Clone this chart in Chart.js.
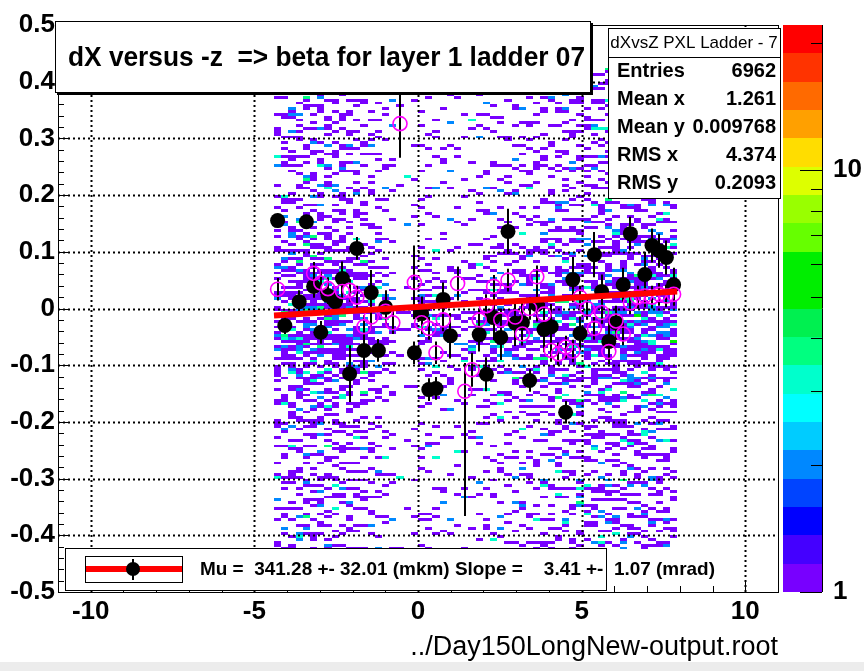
<!DOCTYPE html>
<html>
<head>
<meta charset="utf-8">
<script src="https://cdn.jsdelivr.net/npm/chart.js@4.4.0/dist/chart.umd.min.js"></script>
<style>
  body { margin: 0; background: #fff; }
  #wrap { width: 864px; height: 671px; }
</style>
</head>
<body>
<div id="wrap"><canvas id="c" width="864" height="671"></canvas></div>
<script>
// axes
const xTickVals = [-10, -5, 0, 5, 10];
const yTickVals = [-0.5, -0.4, -0.3, -0.2, -0.1, 0, 0.1, 0.2, 0.3, 0.4, 0.5];
const zMax = 22.07;
const zLabels = [1, 10];

// 2D histogram dX vs -z: columns 0.22 wide from x=-4.4,
// bands of 0.05 from y=-0.425, each digit = filled rows (of 10) in that band
const histX0 = -4.4, histDX = 0.22;
const histY0 = -0.425, histBand = 0.05, histRows = 10;
const histDensity = [
  "23233456543332322", "33333457654433333", "33434467764434343", "43434567765443434",
  "34344568865434343", "43435567766434434", "34434568765443343", "43344567765434434",
  "34434567865443343", "33343467764434333", "34334457754333433", "33333457654333333",
  "23332457654332323", "23232346543232323", "22322346543223222", "12221235432122121",
  "11211234321112111", "10100011100010010", "01010101110101001", "11111112321111111",
  "12121234432121212", "22121234432121211", "12121234432111211", "11211234321112111",
  "11111233321111111", "11111123321111111", "11111123321111111", "11111234332111111",
  "12121234432121211", "21212345543212121", "22121345543212122", "22222345543222122",
  "21222345543222212", "22222345543222221", "23222346543223222", "22322346543222322",
  "23232346543223232", "32323456654323232", "33233456654332323", "32333456654333233",
  "33333456654333333", "33333457654333332", "34333457754333343", "33343457654334333",
  "34343467764343433", "43434567765434343", "34434567765443434", "44344568865434443",
  "43444567765444344", "44434568865434444", "34444567765444434", "44344568865443444",
  "43444567765444343", "34434567765434434", "43343467764343343", "33333457654333333"
];

// profile, fitted means (black)
const blackX = [-4.29, -4.07, -3.63, -3.41, -3.19, -2.97, -2.75, -2.53, -2.31, -2.09, -1.87, -1.65, -1.43, -1.21, -0.99,
  -0.11, 0.11, 0.33, 0.55, 0.77, 0.99, 1.87, 2.09, 2.31, 2.53, 2.75, 2.97, 3.19, 3.41, 3.63, 3.85, 4.07,
  4.51, 4.73, 4.95, 5.39, 5.61, 5.83, 6.05, 6.27, 6.49, 6.93, 7.15, 7.37, 7.59, 7.81];
const blackY = [0.155, -0.030, 0.012, 0.153, 0.039, -0.042, 0.023, 0.012, 0.053, -0.115, 0.106, -0.074, 0.028, -0.074, 0.002,
  -0.078, -0.009, -0.143, -0.141, 0.016, -0.048, -0.046, -0.116, -0.016, -0.051, 0.136, -0.026, -0.025, -0.127, 0.007, -0.037, -0.032,
  -0.183, 0.051, -0.044, 0.095, 0.030, -0.058, -0.025, 0.042, 0.132, 0.060, 0.111, 0.102, 0.090, 0.042];
const blackErr = [0.012, 0.015, 0.02, 0.012, 0.02, 0.02, 0.015, 0.02, 0.03, 0.05, 0.02, 0.035, 0.04, 0.02, 0.03,
  0.02, 0.03, 0.02, 0.02, 0.03, 0.04, 0.03, 0.03, 0.04, 0.04, 0.04, 0.04, 0.04, 0.02, 0.03, 0.04, 0.04,
  0.02, 0.04, 0.03, 0.04, 0.03, 0.04, 0.03, 0.03, 0.03, 0.04, 0.03, 0.03, 0.03, 0.03];

// profile, plain means (magenta), errors up / down
const magX = [-4.29, -3.19, -2.97, -2.75, -2.31, -2.09, -1.87, -1.65, -1.43, -0.99, -0.77, -0.55, -0.11, 0.11, 0.33, 0.55, 0.77,
  1.21, 1.43, 1.65, 1.87, 2.09, 2.31, 2.53, 2.75, 2.97, 3.19, 3.41, 3.63, 3.85, 4.07, 4.29, 4.51, 4.73, 4.95, 5.17,
  5.39, 5.61, 5.83, 6.05, 6.27, 6.49, 6.71, 6.93, 7.15, 7.37, 7.59, 7.81];
const magY = [0.034, 0.062, 0.045, 0.035, 0.030, 0.032, 0.020, -0.032, -0.015, -0.005, -0.025, 0.326, 0.046, -0.025, -0.035, -0.078, -0.020,
  0.044, -0.146, -0.108, -0.020, 0.005, 0.039, -0.020, 0.050, -0.015, -0.045, 0.000, 0.056, -0.010, -0.074, -0.080, -0.068, -0.075, 0.020, 0.000,
  -0.035, -0.007, -0.076, -0.022, -0.045, 0.010, 0.020, 0.022, 0.020, 0.025, 0.022, 0.025];
const magErrUp = [0.02, 0.02, 0.02, 0.02, 0.02, 0.02, 0.02, 0.02, 0.02, 0.02, 0.02, 0.06, 0.065, 0.02, 0.02, 0.02, 0.02,
  0.03, 0.05, 0.03, 0.02, 0.02, 0.02, 0.02, 0.02, 0.02, 0.02, 0.02, 0.02, 0.02, 0.02, 0.02, 0.02, 0.02, 0.02, 0.02,
  0.02, 0.02, 0.02, 0.02, 0.02, 0.02, 0.02, 0.02, 0.02, 0.02, 0.02, 0.02];
const magErrDown = [0.02, 0.02, 0.02, 0.02, 0.02, 0.02, 0.02, 0.02, 0.02, 0.02, 0.02, 0.06, 0.065, 0.02, 0.02, 0.02, 0.02,
  0.03, 0.22, 0.03, 0.02, 0.02, 0.02, 0.02, 0.02, 0.02, 0.02, 0.02, 0.02, 0.02, 0.02, 0.02, 0.02, 0.02, 0.02, 0.02,
  0.02, 0.02, 0.02, 0.02, 0.02, 0.02, 0.02, 0.02, 0.02, 0.02, 0.02, 0.02];

// straight line fit, slope in rad (3.41 mrad)
const fitSlope = 0.00341, fitIntercept = 0.0028;
const fitX = [-4.4, 7.92];

const titleText = "dX versus -z  => beta for layer 1 ladder 07";
const statsName = "dXvsZ PXL Ladder - 7";
const statsLabels = ["Entries", "Mean x", "Mean y", "RMS x", "RMS y"];
const statsValues = ["6962", "1.261", "0.009768", "4.374", "0.2093"];
const legendText = "Mu =  341.28 +- 32.01 (mkm) Slope =    3.41 +-  1.07 (mrad)";
const fileName = "../Day150LongNew-output.root";

// rainbow palette, 20 levels from bottom to top
const palette = ['#7800ff', '#4400ff', '#0000ff', '#0044ff', '#0088ff', '#00ccff', '#00ffff', '#00ffcc',
  '#00ff80', '#00f050', '#00ee00', '#00ee00', '#66ff00', '#99ff00', '#ddff00', '#ffdd00',
  '#ffa000', '#ff6a00', '#ff3300', '#ff0000'];

const FONT = 'Liberation Sans';

function mix(a, b, c) {
  let h = Math.imul(a + 0x9e37, 0x85ebca6b) ^ Math.imul(b + 0x7f4a, 0xc2b2ae35) ^ Math.imul(c + 0x1234, 0x27d4eb2f);
  h ^= h >>> 15; h = Math.imul(h, 0x2c1b3c6d);
  h ^= h >>> 12; h = Math.imul(h, 0x297a2d39);
  h ^= h >>> 15;
  return h >>> 0;
}

function levelColor(n) {
  let k = Math.floor(Math.log10(n) / Math.log10(zMax) * palette.length);
  return palette[Math.max(0, Math.min(palette.length - 1, k))];
}

// busier bands hold more multi-entry cells
function cellCount(d, v) {
  if (d >= 7) return v < 66 ? 1 : v < 86 ? 2 : v < 95 ? 3 : v < 99 ? 4 : 5;
  if (d >= 4) return v < 80 ? 1 : v < 93 ? 2 : v < 98 ? 3 : 4;
  return v < 88 ? 1 : v < 97 ? 2 : 3;
}

function drawHist(chart) {
  const ctx = chart.ctx, xs = chart.scales.x, ys = chart.scales.y;
  const rowH = histBand / histRows;
  histDensity.forEach((col, ci) => {
    const x0 = Math.round(xs.getPixelForValue(histX0 + ci * histDX));
    const x1 = Math.round(xs.getPixelForValue(histX0 + (ci + 1) * histDX));
    for (let b = 0; b < col.length; b++) {
      const d = +col[b];
      const rows = [0, 1, 2, 3, 4, 5, 6, 7, 8, 9];
      for (let k = 0; k < d; k++) {
        const j = k + mix(ci, b, k) % (histRows - k);
        const t = rows[k]; rows[k] = rows[j]; rows[j] = t;
        const r = b * histRows + rows[k];
        const yLo = histY0 + r * rowH;
        const py0 = Math.round(ys.getPixelForValue(yLo + rowH));
        const py1 = Math.round(ys.getPixelForValue(yLo));
        ctx.fillStyle = levelColor(cellCount(d, mix(ci, b, 100 + k) % 100));
        ctx.fillRect(x0, py0, x1 - x0, Math.max(2, py1 - py0));
      }
    }
  });
}

function drawGrid(chart) {
  const ctx = chart.ctx, a = chart.chartArea, xs = chart.scales.x, ys = chart.scales.y;
  ctx.save();
  ctx.strokeStyle = '#000';
  ctx.lineWidth = 2;
  ctx.setLineDash([2, 3]);
  xTickVals.forEach(v => {
    const p = Math.round(xs.getPixelForValue(v)) + 0.5;
    ctx.beginPath(); ctx.moveTo(p, a.top); ctx.lineTo(p, a.bottom); ctx.stroke();
  });
  yTickVals.slice(1, -1).forEach(v => {
    const p = Math.round(ys.getPixelForValue(v)) + 0.5;
    ctx.beginPath(); ctx.moveTo(a.left, p); ctx.lineTo(a.right, p); ctx.stroke();
  });
  ctx.restore();
}

function drawErrors(chart, xsArr, ysArr, up, down) {
  const ctx = chart.ctx, xs = chart.scales.x, ys = chart.scales.y;
  ctx.save();
  ctx.strokeStyle = '#000';
  ctx.lineWidth = 2;
  xsArr.forEach((x, i) => {
    const px = Math.round(xs.getPixelForValue(x));
    ctx.beginPath();
    ctx.moveTo(px, ys.getPixelForValue(ysArr[i] + up[i]));
    ctx.lineTo(px, ys.getPixelForValue(ysArr[i] - down[i]));
    ctx.stroke();
  });
  ctx.restore();
}

function drawFrame(chart) {
  const ctx = chart.ctx, a = chart.chartArea, xs = chart.scales.x, ys = chart.scales.y;
  ctx.save();
  ctx.strokeStyle = '#000';
  ctx.lineWidth = 1;
  ctx.strokeRect(Math.round(a.left) + 0.5, Math.round(a.top) + 0.5, Math.round(a.right - a.left), Math.round(a.bottom - a.top));
  ctx.beginPath();
  for (let v = -11; v <= 11; v++) {
    const p = Math.round(xs.getPixelForValue(v)) + 0.5;
    const len = v % 5 === 0 ? 12 : 6;
    ctx.moveTo(p, a.bottom); ctx.lineTo(p, a.bottom - len);
  }
  for (let k = -25; k <= 25; k++) {
    const p = Math.round(ys.getPixelForValue(k * 0.02)) + 0.5;
    const len = k % 5 === 0 ? 12 : 6;
    ctx.moveTo(a.left, p); ctx.lineTo(a.left + len, p);
  }
  ctx.stroke();
  ctx.restore();
}

function drawColorBar(chart) {
  const ctx = chart.ctx, a = chart.chartArea;
  const left = 783, right = 822, h = a.bottom - a.top;
  const zPix = z => a.bottom - Math.log10(z) / Math.log10(zMax) * h;
  palette.forEach((c, i) => {
    const y0 = Math.round(a.bottom - (i + 1) * h / palette.length);
    const y1 = Math.round(a.bottom - i * h / palette.length);
    ctx.fillStyle = c;
    ctx.fillRect(left, y0, right - left, y1 - y0);
  });
  ctx.save();
  ctx.strokeStyle = '#000';
  ctx.lineWidth = 1;
  ctx.beginPath();
  ctx.moveTo(right + 0.5, a.top); ctx.lineTo(right + 0.5, a.bottom);
  [1, 2, 3, 4, 5, 6, 7, 8, 9, 10, 20].forEach(z => {
    const p = Math.round(zPix(z)) + 0.5;
    const len = z === 1 || z === 10 ? 22 : 11;
    ctx.moveTo(right, p); ctx.lineTo(right - len, p);
  });
  ctx.stroke();
  ctx.fillStyle = '#000';
  ctx.font = 'bold 26px ' + FONT;
  ctx.textAlign = 'left';
  ctx.textBaseline = 'middle';
  zLabels.forEach(z => ctx.fillText(String(z), 833, zPix(z)));
  ctx.restore();
}

function drawBoxes(chart) {
  const ctx = chart.ctx;
  ctx.save();
  ctx.strokeStyle = '#000';
  ctx.lineWidth = 1;

  // title
  ctx.fillStyle = '#fff';
  ctx.fillRect(55, 21, 535, 71);
  ctx.strokeRect(55.5, 21.5, 535, 71);
  ctx.fillStyle = '#000';
  ctx.fillRect(591, 23, 2, 71);
  ctx.fillRect(57, 93, 536, 2);
  ctx.font = 'bold 27px ' + FONT;
  ctx.textBaseline = 'alphabetic';
  ctx.textAlign = 'left';
  ctx.fillText(titleText, 68, 66, 517);

  // statistics box
  ctx.fillStyle = '#fff';
  ctx.fillRect(608, 28, 172, 170);
  ctx.strokeRect(608.5, 28.5, 172, 170);
  ctx.beginPath(); ctx.moveTo(608, 57.5); ctx.lineTo(780, 57.5); ctx.stroke();
  ctx.fillStyle = '#000';
  ctx.font = '17px ' + FONT;
  ctx.textAlign = 'center';
  ctx.textBaseline = 'middle';
  ctx.fillText(statsName, 694, 43, 168);
  ctx.font = 'bold 20px ' + FONT;
  statsLabels.forEach((s, i) => {
    const y = 71 + i * 28;
    ctx.textAlign = 'left';
    ctx.fillText(s, 617, y);
    ctx.textAlign = 'right';
    ctx.fillText(statsValues[i], 776, y);
  });

  // legend
  ctx.fillStyle = '#fff';
  ctx.fillRect(65, 548, 541, 42);
  ctx.strokeRect(65.5, 548.5, 541, 42);
  ctx.strokeRect(85.5, 556.5, 97, 26);
  ctx.fillStyle = '#ff0000';
  ctx.fillRect(86, 566, 96, 6);
  ctx.strokeStyle = '#000';
  ctx.lineWidth = 2;
  ctx.beginPath(); ctx.moveTo(133, 559); ctx.lineTo(133, 580); ctx.stroke();
  ctx.fillStyle = '#000';
  ctx.beginPath(); ctx.arc(133, 569, 7, 0, Math.PI * 2); ctx.fill();
  ctx.font = 'bold 19px ' + FONT;
  ctx.textAlign = 'left';
  ctx.textBaseline = 'middle';
  ctx.fillText(legendText, 200, 570, 515);
  ctx.restore();
}

const rootPlugin = {
  id: 'rootPad',
  beforeDraw(chart) {
    const ctx = chart.ctx;
    ctx.save();
    ctx.fillStyle = '#fff';
    ctx.fillRect(0, 0, chart.width, chart.height);
    ctx.fillStyle = '#ececec';
    ctx.fillRect(0, 662, chart.width, chart.height - 662);
    ctx.restore();
  },
  beforeDatasetsDraw(chart) {
    drawHist(chart);
    drawGrid(chart);
    drawErrors(chart, blackX, blackY, blackErr, blackErr);
    drawErrors(chart, magX, magY, magErrUp, magErrDown);
  },
  afterDatasetsDraw(chart) {
    drawFrame(chart);
    drawColorBar(chart);
    drawBoxes(chart);
  }
};

const tickFont = { family: FONT, weight: 'bold', size: 26 };

new Chart(document.getElementById('c'), {
  type: 'scatter',
  data: {
    datasets: [
      {
        type: 'line', label: 'fit',
        data: fitX.map(x => ({ x: x, y: fitIntercept + fitSlope * x })),
        borderColor: '#ff0000', borderWidth: 6, pointRadius: 0, fill: false, order: 0
      },
      {
        label: 'mean',
        data: magX.map((x, i) => ({ x: x, y: magY[i] })),
        pointStyle: 'circle', pointRadius: 7, borderWidth: 1.6,
        borderColor: '#ff00ff', backgroundColor: 'rgba(0,0,0,0)', order: 1
      },
      {
        label: 'gauss mean',
        data: blackX.map((x, i) => ({ x: x, y: blackY[i] })),
        pointStyle: 'circle', pointRadius: 7.5, borderWidth: 0,
        backgroundColor: '#000', order: 2
      }
    ]
  },
  options: {
    responsive: false,
    animation: false,
    devicePixelRatio: 1,
    layout: { padding: { left: 0, right: 86, top: 25, bottom: 0 } },
    plugins: { legend: { display: false }, tooltip: { enabled: false } },
    scales: {
      x: {
        type: 'linear', min: -11, max: 11,
        grid: { display: false, drawTicks: false },
        border: { display: false },
        afterBuildTicks: s => { s.ticks = xTickVals.map(v => ({ value: v })); },
        afterFit: s => { s.height = 79; },
        ticks: { font: tickFont, color: '#000', padding: 4, maxRotation: 0, autoSkip: false },
        title: {
          display: true, text: fileName, align: 'end', color: '#000',
          font: { family: FONT, size: 27 }, padding: { top: 0, bottom: 7 }
        }
      },
      y: {
        type: 'linear', min: -0.5, max: 0.5,
        grid: { display: false, drawTicks: false },
        border: { display: false },
        afterBuildTicks: s => { s.ticks = yTickVals.map(v => ({ value: v })); },
        afterFit: s => { s.width = 58; },
        ticks: {
          font: tickFont, color: '#000', padding: 3, autoSkip: false,
          callback: v => Math.abs(v) < 1e-9 ? '0' : String(+v.toFixed(1))
        }
      }
    }
  },
  plugins: [rootPlugin]
});
</script>
</body>
</html>
